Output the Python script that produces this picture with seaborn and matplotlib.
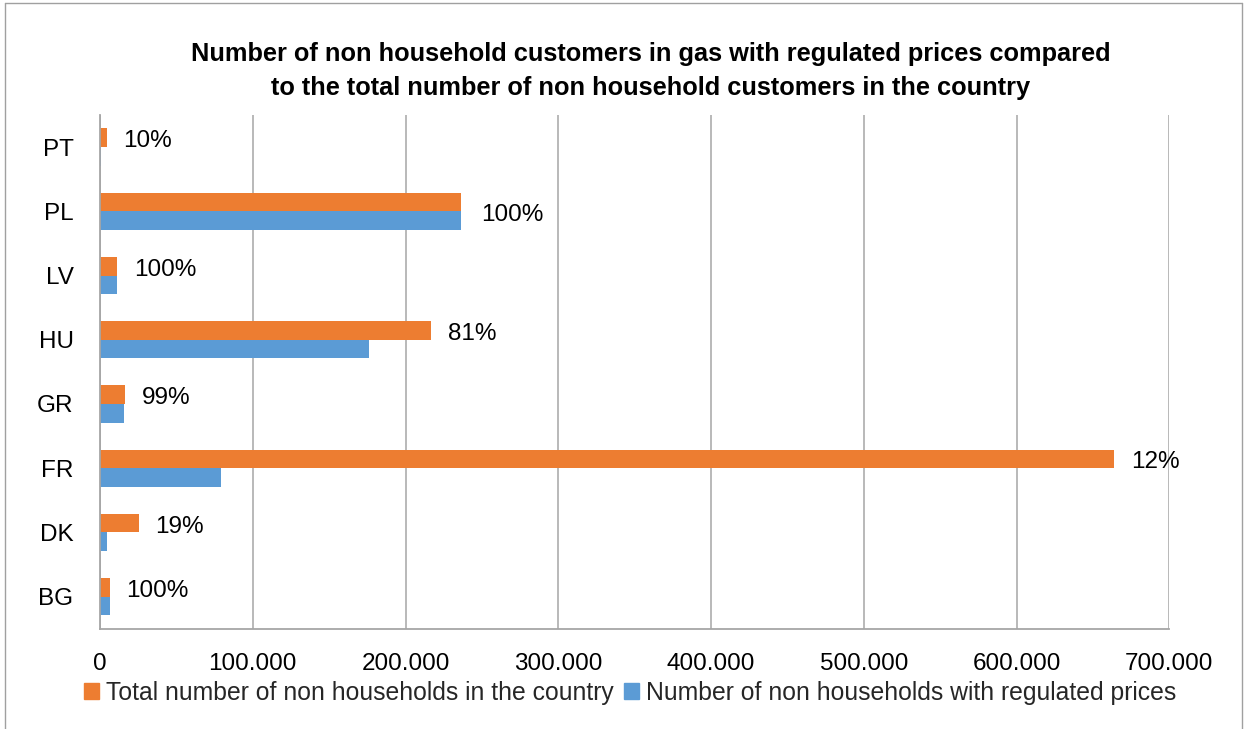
import matplotlib
matplotlib.use("Agg")
import matplotlib.pyplot as plt
import seaborn as sns
import pandas as pd
from matplotlib.lines import Line2D

countries = ["PT", "PL", "LV", "HU", "GR", "FR", "DK", "BG"]
total_customers = [4400, 236000, 11300, 217000, 16200, 664000, 25500, 6500]
regulated_customers = [440, 236000, 11300, 176000, 16000, 79000, 4800, 6500]
pct_labels = ["10%", "100%", "100%", "81%", "99%", "12%", "19%", "100%"]
series_names = ["Total number of non households in the country",
                "Number of non households with regulated prices"]
x_ticks = [0, 100000, 200000, 300000, 400000, 500000, 600000, 700000]
title_lines = ["Number of non household customers in gas with regulated prices compared",
               "to the total number of non household customers in the country"]

ORANGE = "#ED7D31"
BLUE = "#5B9BD5"
GRID = "#A6A6A6"
FS = 17.5

df = pd.DataFrame({
    "country": countries * 2,
    "value": total_customers + regulated_customers,
    "series": [series_names[0]] * len(countries) + [series_names[1]] * len(countries),
})

sns.set_theme(style="white")
plt.rcParams["font.family"] = ["Liberation Sans", "DejaVu Sans"]

W, H = 1246, 729
fig = plt.figure(figsize=(W / 100, H / 100), dpi=100)
ax = fig.add_axes([100 / W, 1 - 628.7 / H, (1169.3 - 100) / W, (628.7 - 115) / H])

sns.barplot(data=df, y="country", x="value", hue="series", orient="h",
            order=countries, hue_order=series_names, palette=[ORANGE, BLUE],
            width=0.58, ax=ax, saturation=1, linewidth=0)

ax.set_xlim(0, 700000)
ax.set_ylim(len(countries) - 0.5, -0.5)
ax.set_xticks(x_ticks)
ax.set_xticklabels([f"{v:,}".replace(",", ".") for v in x_ticks], fontsize=FS, color="#000000")
ax.tick_params(axis="x", length=0, pad=17.5)
ax.tick_params(axis="y", length=0, pad=19, labelsize=FS, labelcolor="#000000")
ax.set_xlabel("")
ax.set_ylabel("")
ax.xaxis.grid(True, color=GRID, linewidth=1.1)
ax.yaxis.grid(False)
ax.set_axisbelow(True)
for s in ["top", "right"]:
    ax.spines[s].set_visible(False)
for s in ["left", "bottom"]:
    ax.spines[s].set_color(GRID)
    ax.spines[s].set_linewidth(1.3)

# percentage labels next to the longer (orange) bar; PL label sits at group centre
group_centre_labels = {"PL"}
orange_bars = ax.containers[0]
blue_bars = ax.containers[1]
for c, ob, bb, lab in zip(countries, orange_bars, blue_bars, pct_labels):
    xend = max(ob.get_width(), bb.get_width())
    if c in group_centre_labels:
        yc = ob.get_y() + ob.get_height()
        dx = 14.5
    else:
        yc = ob.get_y() + ob.get_height() / 2
        dx = 12
    ax.annotate(lab, xy=(xend, yc), xytext=(dx, -2.5), textcoords="offset points",
                va="center", ha="left", fontsize=FS, color="#000000")

# legend
ax.legend_.remove()
handles = [plt.Rectangle((0, 0), 1, 1, color=ORANGE), plt.Rectangle((0, 0), 1, 1, color=BLUE)]
fig.legend(handles, series_names, loc="center", bbox_to_anchor=(630 / W, 1 - 693 / H),
           ncol=2, frameon=False, fontsize=17.8, handlelength=0.6, handleheight=0.6,
           handletextpad=0.3, columnspacing=0.4, borderaxespad=0)

# title
fig.text(651 / W, 1 - 53.5 / H, title_lines[0], ha="center", va="center",
         fontsize=18.3, fontweight="bold", color="#000000")
fig.text(651 / W, 1 - 88.5 / H, title_lines[1], ha="center", va="center",
         fontsize=18.3, fontweight="bold", color="#000000")

# outer chart border
for (x0, y0, x1, y1) in [(5, 3, 1242, 3), (5, 3, 5, 729), (1242, 3, 1242, 729)]:
    fig.add_artist(Line2D([x0 / W, x1 / W], [1 - y0 / H, 1 - y1 / H],
                          transform=fig.transFigure, color="#A0A0A0", linewidth=1.0))

fig.savefig("out.png", dpi=100, facecolor="white")
